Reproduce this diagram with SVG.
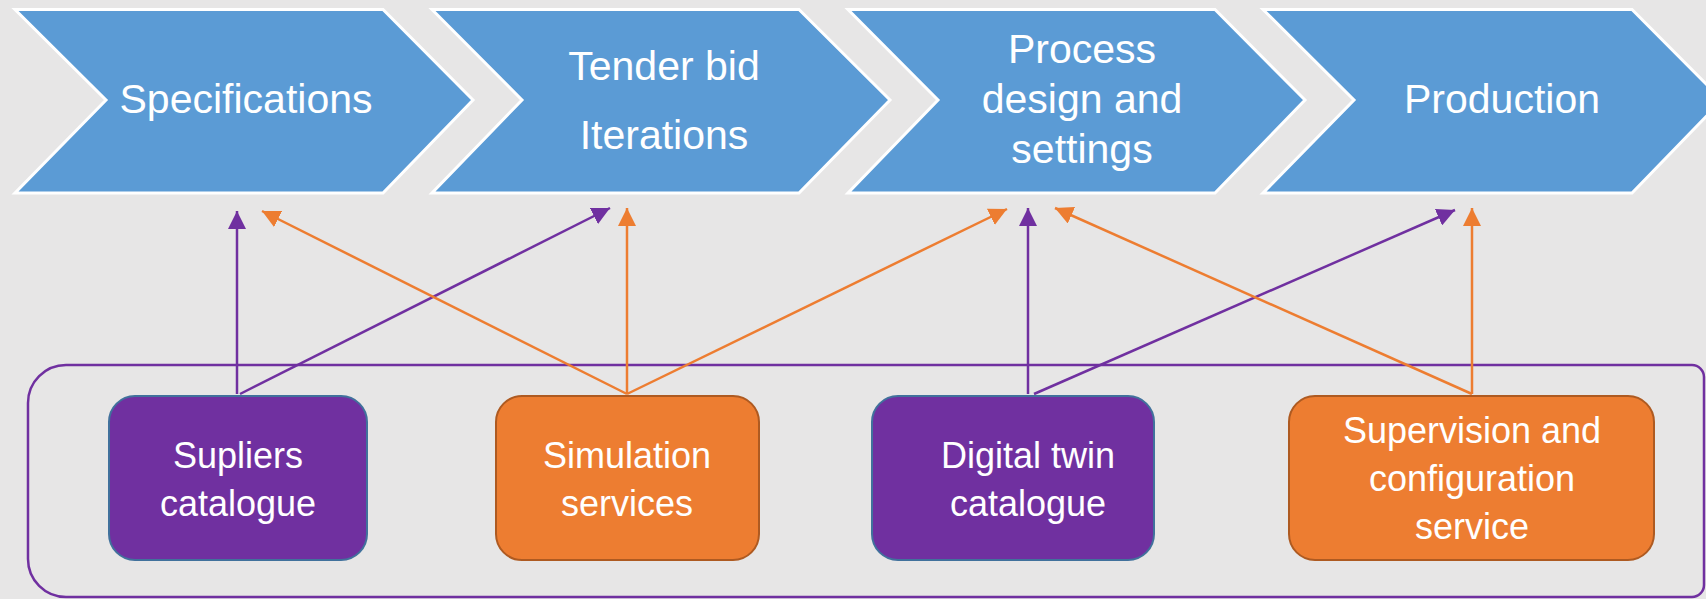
<svg xmlns="http://www.w3.org/2000/svg" width="1706" height="599" viewBox="0 0 1706 599">
<style>
.chev{fill:#5B9BD5;stroke:#FFFFFF;stroke-width:3}
.ct{font-family:"Liberation Sans",Arial,sans-serif;font-size:41px;fill:#FFFFFF;text-anchor:middle}
.bt{font-family:"Liberation Sans",Arial,sans-serif;font-size:36px;fill:#FFFFFF;text-anchor:middle}
.pbox{fill:#7030A0;stroke:#41719C;stroke-width:2}
.obox{fill:#ED7D31;stroke:#AE5A21;stroke-width:2}
.pl{stroke:#7030A0;stroke-width:2.5;fill:none;marker-end:url(#ap)}
.ol{stroke:#ED7D31;stroke-width:2.5;fill:none;marker-end:url(#ao)}
</style>
<defs>
<marker id="ap" markerUnits="userSpaceOnUse" markerWidth="18" markerHeight="18" viewBox="0 0 16 16" refX="16" refY="8" orient="auto"><path d="M0,0 L16,8 L0,16 Z" fill="#7030A0"/></marker>
<marker id="ao" markerUnits="userSpaceOnUse" markerWidth="18" markerHeight="18" viewBox="0 0 16 16" refX="16" refY="8" orient="auto"><path d="M0,0 L16,8 L0,16 Z" fill="#ED7D31"/></marker>
</defs>
<rect width="1706" height="599" fill="#E7E6E6"/>
<g id="container"><path d="M66,365 H1692 A12,12 0 0 1 1704,377 V585 A12,12 0 0 1 1692,597 H66 A38,38 0 0 1 28,559 V403 A38,38 0 0 1 66,365 Z" fill="none" stroke="#7030A0" stroke-width="2.5"/></g>
<g id="stage-specifications"><polygon class="chev" points="15,9.5 383,9.5 473,100 383,193 15,193 106,100"/><text class="ct" x="246" y="113">Specifications</text></g>
<g id="stage-tender"><polygon class="chev" points="432,9.5 799,9.5 890,100 799,193 432,193 522,100"/><text class="ct" x="664" y="80">Tender bid</text><text class="ct" x="664" y="149">Iterations</text></g>
<g id="stage-process"><polygon class="chev" points="848,9.5 1215,9.5 1305,100 1215,193 848,193 938,100"/><text class="ct" x="1082" y="63">Process</text><text class="ct" x="1082" y="113">design and</text><text class="ct" x="1082" y="163">settings</text></g>
<g id="stage-production"><polygon class="chev" points="1263,9.5 1632,9.5 1722,100 1632,193 1263,193 1354,100"/><text class="ct" x="1502" y="113">Production</text></g>
<g id="connectors">
<line class="pl" x1="237" y1="394" x2="237" y2="211"/>
<line class="pl" x1="240" y1="394" x2="610" y2="208"/>
<line class="ol" x1="627" y1="394" x2="262" y2="211"/>
<line class="ol" x1="627" y1="394" x2="627" y2="208"/>
<line class="ol" x1="627" y1="394" x2="1007" y2="209"/>
<line class="pl" x1="1028" y1="394" x2="1028" y2="208"/>
<line class="pl" x1="1034" y1="394" x2="1455" y2="210"/>
<line class="ol" x1="1472" y1="394" x2="1055" y2="208"/>
<line class="ol" x1="1472" y1="394" x2="1472" y2="208"/>
</g>
<g id="node-supliers"><rect class="pbox" x="109" y="396" width="258" height="164" rx="26"/><text class="bt" x="238" y="468">Supliers</text><text class="bt" x="238" y="516">catalogue</text></g>
<g id="node-simulation"><rect class="obox" x="496" y="396" width="263" height="164" rx="26"/><text class="bt" x="627" y="468">Simulation</text><text class="bt" x="627" y="516">services</text></g>
<g id="node-digital"><rect class="pbox" x="872" y="396" width="282" height="164" rx="26"/><text class="bt" x="1028" y="468">Digital twin</text><text class="bt" x="1028" y="516">catalogue</text></g>
<g id="node-supervision"><rect class="obox" x="1289" y="396" width="365" height="164" rx="26"/><text class="bt" x="1472" y="443">Supervision and</text><text class="bt" x="1472" y="491">configuration</text><text class="bt" x="1472" y="539">service</text></g>
</svg>
